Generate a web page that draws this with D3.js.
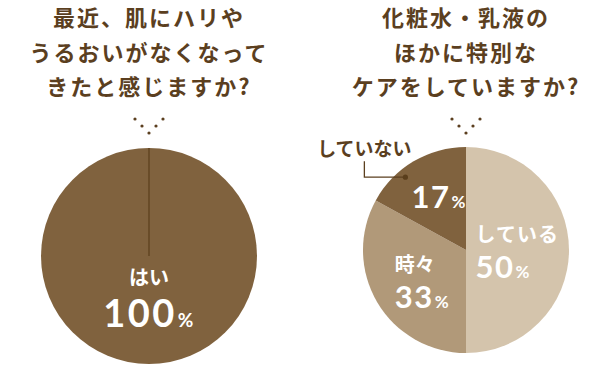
<!DOCTYPE html>
<html>
<head>
<meta charset="utf-8">
<script src="https://cdn.jsdelivr.net/npm/d3@7"></script>
<style>
  body { margin: 0; background: #fff; }
  svg text { font-family: "Noto Sans CJK JP", sans-serif; }
  .num { font-family: Lato, "Noto Sans", sans-serif; font-weight: 700; letter-spacing: 1.5px; }
</style>
</head>
<body>
<div id="chart"></div>
<script>
// data
const leftTitle = ["最近、肌にハリや", "うるおいがなくなって", "きたと感じますか?"];
const rightTitle = ["化粧水・乳液の", "ほかに特別な", "ケアをしていますか?"];
const leftLabels = ["はい"];
const leftValues = [100];
const rightLabels = ["している", "時々", "していない"];
const rightValues = [50, 33, 17];

const width = 615, height = 365;
const titleColor = "#5b3f1f";
const rightColors = ["#d4c4ac", "#b19979", "#80623e"];
const leftColor = "#80623e";

const svg = d3.select("#chart").append("svg")
    .attr("width", width)
    .attr("height", height);

function drawTitle(lines, cx) {
    const t = svg.append("text")
        .attr("text-anchor", "middle")
        .style("font-size", "22px")
        .style("font-weight", "700")
        .style("letter-spacing", "2px")
        .attr("fill", titleColor);
    lines.forEach((line, i) => {
        t.append("tspan").attr("x", cx).attr("y", 26 + i * 34.5).text(line);
    });
    // little dots under the question
    const dots = [[-14, -1], [-7, 6], [0, 13], [7, 6], [14, -1]];
    svg.selectAll(null).data(dots).enter().append("circle")
        .attr("cx", d => cx + d[0])
        .attr("cy", d => 120 + d[1])
        .attr("r", 1.6)
        .attr("fill", titleColor);
}

drawTitle(leftTitle, 149);
drawTitle(rightTitle, 466);

const pie = d3.pie().sort(null).value(d => d);

// left pie
const leftR = 108;
const gl = svg.append("g").attr("transform", "translate(149,256)");
const leftArcs = pie(leftValues);
gl.selectAll("path").data(leftArcs).enter().append("path")
    .attr("d", d3.arc().innerRadius(0).outerRadius(leftR))
    .attr("fill", leftColor);
leftArcs.forEach(a => {
    const p = d3.pointRadial(a.startAngle, leftR);
    gl.append("line")
        .attr("x1", 0).attr("y1", 0)
        .attr("x2", p[0]).attr("y2", p[1])
        .attr("stroke", "#5a3e1c")
        .attr("stroke-width", 1.2);
});
gl.append("text")
    .attr("text-anchor", "middle")
    .attr("y", 29)
    .attr("fill", "#fff")
    .style("font-size", "20px")
    .style("font-weight", "700")
    .text(leftLabels[0]);
const lnum = gl.append("text")
    .attr("class", "num")
    .attr("text-anchor", "middle")
    .attr("y", 71)
    .attr("fill", "#fff");
lnum.append("tspan").style("font-size", "38px").style("letter-spacing", "2.5px").text(leftValues[0]);
lnum.append("tspan").style("font-size", "19px").attr("dx", 1).text("%");

// right pie
const rightR = 103;
const gr = svg.append("g").attr("transform", "translate(466,250)");
const rightArcs = pie(rightValues);
gr.selectAll("path").data(rightArcs).enter().append("path")
    .attr("d", d3.arc().innerRadius(0).outerRadius(rightR))
    .attr("fill", (d, i) => rightColors[i]);

const labelArc = d3.arc().innerRadius(rightR * 0.5).outerRadius(rightR * 0.5);

// している 50%
const c0 = labelArc.centroid(rightArcs[0]);
gr.append("text")
    .attr("x", c0[0] - 42).attr("y", c0[1] - 8)
    .attr("fill", "#fff")
    .style("font-size", "20px").style("font-weight", "700")
    .style("letter-spacing", "1px")
    .text(rightLabels[0]);
const n0 = gr.append("text").attr("class", "num")
    .attr("x", c0[0] - 42).attr("y", c0[1] + 28)
    .attr("fill", "#fff");
n0.append("tspan").style("font-size", "31px").text(rightValues[0]);
n0.append("tspan").style("font-size", "17px").attr("dx", 1).text("%");

// 時々 33%
const c1 = labelArc.centroid(rightArcs[1]);
gr.append("text")
    .attr("x", c1[0] - 27).attr("y", c1[1] - 4)
    .attr("fill", "#fff")
    .style("font-size", "20px").style("font-weight", "700")
    .text(rightLabels[1]);
const n1 = gr.append("text").attr("class", "num")
    .attr("x", c1[0] - 27).attr("y", c1[1] + 32)
    .attr("fill", "#fff");
n1.append("tspan").style("font-size", "31px").text(rightValues[1]);
n1.append("tspan").style("font-size", "17px").attr("dx", 1).text("%");

// 17%
const arc2 = d3.arc().innerRadius(rightR * 0.6).outerRadius(rightR * 0.6);
const c2 = arc2.centroid(rightArcs[2]);
const n2 = gr.append("text").attr("class", "num")
    .attr("x", c2[0] - 23).attr("y", c2[1] + 11)
    .attr("fill", "#fff");
n2.append("tspan").style("font-size", "31px").text(rightValues[2]);
n2.append("tspan").style("font-size", "17px").attr("dx", 1).text("%");

// callout for していない
const dotR = rightR * 0.92;
const a2 = rightArcs[2].startAngle + (rightArcs[2].endAngle - rightArcs[2].startAngle) * 0.35;
const dp = d3.pointRadial(a2, dotR);
const elbowX = dp[0] - 41;
gr.append("path")
    .attr("d", `M${dp[0]},${dp[1]} H${elbowX} V${dp[1] - 16}`)
    .attr("fill", "none")
    .attr("stroke", titleColor)
    .attr("stroke-width", 1.3);
gr.append("circle")
    .attr("cx", dp[0]).attr("cy", dp[1]).attr("r", 2.6)
    .attr("fill", "#5a3e1c");
gr.append("text")
    .attr("x", elbowX).attr("y", dp[1] - 21)
    .attr("text-anchor", "middle")
    .attr("fill", titleColor)
    .style("font-size", "19px").style("font-weight", "700")
    .text(rightLabels[2]);
</script>
</body>
</html>
